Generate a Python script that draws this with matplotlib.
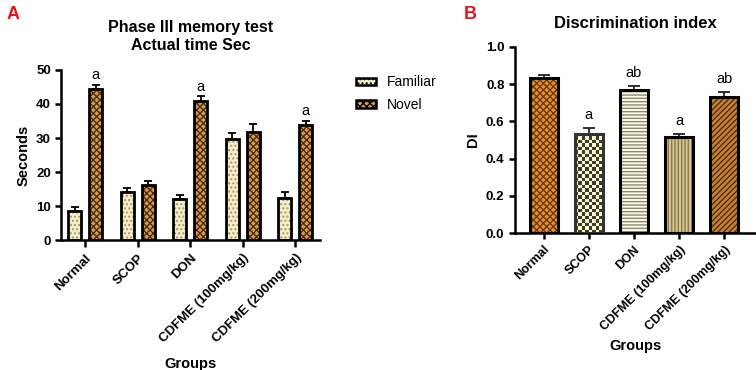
import matplotlib.pyplot as plt
import matplotlib.patches as mpatches
from matplotlib.colors import ListedColormap
import numpy as np

plt.rcParams['font.family'] = ['Liberation Sans', 'DejaVu Sans']
plt.rcParams['hatch.linewidth'] = 1.0

groups = ['Normal', 'SCOP', 'DON', 'CDFME (100mg/kg)', 'CDFME (200mg/kg)']

# panel A: time exploring objects (sec)
familiar = [8.7, 14.0, 12.0, 29.8, 12.4]
familiar_err = [1.0, 1.3, 1.2, 1.8, 1.7]
novel = [44.5, 16.2, 40.8, 31.9, 33.7]
novel_err = [1.2, 1.3, 1.4, 2.1, 1.3]
novel_letters = ['a', '', 'a', '', 'a']

# panel B: discrimination index
di = [0.835, 0.535, 0.77, 0.515, 0.73]
di_err = [0.015, 0.03, 0.02, 0.02, 0.03]
di_letters = ['', 'a', 'ab', 'a', 'ab']

fig = plt.figure(figsize=(7.56, 3.7), dpi=100)
axA = fig.add_axes([0.081, 0.351, 0.342, 0.460])
axB = fig.add_axes([0.681, 0.370, 0.318, 0.503])


def hatched_bars(ax, x, h, width, face, hatch, hcol, edge='black', lw=2.0):
    ax.bar(x, h, width, color=face, hatch=hatch, edgecolor=hcol, linewidth=0, zorder=2)
    ax.bar(x, h, width, fill=False, edgecolor=edge, linewidth=lw, zorder=3)


def checker_bar(ax, x, h, width, c1, c2, edge, lw, cell=3.4):
    # checkerboard fill clipped to the bar
    bar = ax.bar(x, h, width, fill=False, edgecolor=edge, linewidth=lw, zorder=3)[0]
    fig.canvas.draw()
    p0 = ax.transData.transform((x - width / 2, 0))
    p1 = ax.transData.transform((x + width / 2, h))
    nc = max(1, int(round((p1[0] - p0[0]) / cell)))
    nr = max(1, int(round((p1[1] - p0[1]) / cell)))
    pat = (np.add.outer(np.arange(nr), np.arange(nc)) % 2)
    im = ax.imshow(pat, cmap=ListedColormap([c1, c2]), interpolation='nearest',
                   extent=(x - width / 2, x + width / 2, 0, h), aspect='auto', zorder=2)
    im.set_clip_path(bar)


def style(ax, pad, xfs):
    for s in ['top', 'right']:
        ax.spines[s].set_visible(False)
    for s in ['left', 'bottom']:
        ax.spines[s].set_linewidth(1.8)
    ax.tick_params(width=1.8, length=4)
    for lab in ax.get_yticklabels():
        lab.set_fontweight('bold')
        lab.set_fontsize(9.5)
    ax.set_xticks(np.arange(len(groups)))
    ax.set_xticklabels(groups, rotation=45, ha='right', rotation_mode='anchor',
                       fontsize=xfs, fontweight='bold')
    ax.set_xlabel('Groups', fontsize=10.5, fontweight='bold', labelpad=pad)


# ---- Panel A ----
x = np.arange(len(groups))
w = 0.25
off = 0.2
for i in range(len(groups)):
    hatched_bars(axA, x[i] - off, familiar[i], w, '#F6EDC9', '....', '#A89868')
    hatched_bars(axA, x[i] + off, novel[i], w, '#D99A4E', 'xxxxx', '#4A2E12')
axA.errorbar(x - off, familiar, yerr=[np.zeros(5), familiar_err], fmt='none',
             ecolor='black', elinewidth=1.3, capsize=3, capthick=1.3, zorder=1)
axA.errorbar(x + off, novel, yerr=[np.zeros(5), novel_err], fmt='none',
             ecolor='black', elinewidth=1.3, capsize=3, capthick=1.3, zorder=1)
for i, t in enumerate(novel_letters):
    if t:
        axA.text(x[i] + off, novel[i] + novel_err[i] + 0.8, t, ha='center',
                 va='bottom', fontsize=10.5)
axA.set_xlim(-0.46, 4.47)
axA.set_ylim(0, 50)
axA.set_yticks([0, 10, 20, 30, 40, 50])
style(axA, 8, 9.5)
axA.tick_params(axis='x', length=5)
axA.set_ylabel('Seconds', fontsize=10.5, fontweight='bold')
axA.set_title('Phase III memory test\nActual time Sec', fontsize=11.5,
              fontweight='bold', pad=14, linespacing=1.3)

h1 = mpatches.Patch(facecolor='#F6EDC9', hatch='....', edgecolor='black', linewidth=1.8)
h2 = mpatches.Patch(facecolor='#D99A4E', hatch='xxxxx', edgecolor='black', linewidth=1.8)
fig.legend([h1, h2], ['Familiar', 'Novel'], loc='upper left',
           bbox_to_anchor=(0.455, 0.83), frameon=False, fontsize=10,
           handlelength=1.4, handleheight=0.5, labelspacing=0.6, handletextpad=0.8)

# ---- Panel B ----
faces = ['#E8902E', '#FBF8C0', '#FDFBE0', '#D6C58E', '#C58236']
hatches = ['xxxxx', None, '-----', '|||||', '//////']
hcols = ['#6A3A10', '#3A3A3A', '#8A8878', '#8C7B50', '#4E2C0C']
edges = ['black', '#333333', 'black', 'black', 'black']
axB.set_xlim(-0.64, 4.69)
axB.set_ylim(0, 1.0)
for i in range(len(groups)):
    if hatches[i] is None:
        checker_bar(axB, x[i], di[i], 0.62, faces[i], hcols[i], edges[i], 2.2)
    else:
        hatched_bars(axB, x[i], di[i], 0.62, faces[i], hatches[i], hcols[i],
                     edge=edges[i], lw=2.2)
axB.errorbar(x, di, yerr=[np.zeros(5), di_err], fmt='none', ecolor='#222222',
             elinewidth=1.3, capsize=4, capthick=1.3, zorder=1)
for i, t in enumerate(di_letters):
    if t:
        axB.text(x[i], di[i] + di_err[i] + 0.03, t, ha='center', va='bottom',
                 fontsize=10.5)
axB.set_yticks([0.0, 0.2, 0.4, 0.6, 0.8, 1.0])
axB.set_yticklabels(['0.0', '0.2', '0.4', '0.6', '0.8', '1.0'])
style(axB, 4, 9)
axB.set_ylabel('DI', fontsize=10.5, fontweight='bold')
axB.set_title('Discrimination index', fontsize=12, fontweight='bold', pad=14)

fig.text(0.008, 0.985, 'A', color='#E8141C', fontsize=13, fontweight='bold', va='top')
fig.text(0.613, 0.985, 'B', color='#E8141C', fontsize=13, fontweight='bold', va='top')

fig.savefig('out.png', dpi=100)
